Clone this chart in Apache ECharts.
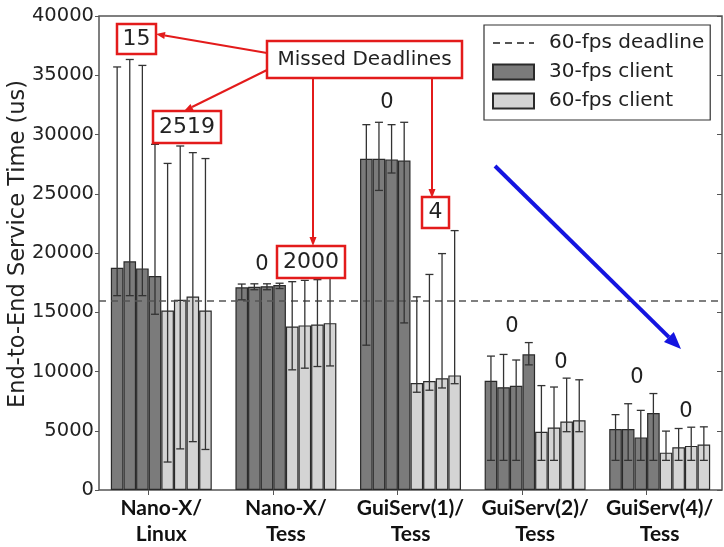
<!DOCTYPE html>
<html><head><meta charset="utf-8">
<script src="https://cdn.jsdelivr.net/npm/echarts@6/dist/echarts.min.js"></script>
<style>html,body{margin:0;padding:0;background:#fff}#c{width:724px;height:547px}</style>
</head><body><div id="c"></div>
<script>
// ---------- data ----------
const categories = ['Nano-X/\nLinux', 'Nano-X/\nTess', 'GuiServ(1)/\nTess', 'GuiServ(2)/\nTess', 'GuiServ(4)/\nTess'];
const yMin = 0, yMax = 40000, yStep = 5000;
const deadline60 = 16000;
// per group: 4 bars (one per client run)
const mean30 = [[18750,19300,18700,18050],[17100,17150,17200,17300],[27950,27950,27900,27800],[9220,8670,8800,11450],[5140,5140,4440,6500]];
const low30  = [[16400,16400,16400,14830],[16050,16900,16900,17000],[12220,25280,26750,14100],[2500,2500,2500,10560],[2500,2500,2500,2500]];
const high30 = [[35700,36330,35830,29170],[17380,17400,17400,17450],[30830,31030,30830,31030],[11300,11440,10970,12440],[6360,7280,6720,8140]];
const mean60 = [[15150,16050,16330,15150],[13800,13890,13970,14080],[9030,9190,9420,9670],[4920,5280,5780,5890],[3150,3610,3720,3830]];
const low60  = [[2360,3470,4080,3420],[10140,10280,10420,10470],[8250,8420,8610,8970],[2500,2500,4920,4920],[2500,2500,2500,2500]];
const high60 = [[27560,29030,28470,27970],[17580,17690,17750,17860],[16300,18190,19950,21890],[8810,8690,9440,9300],[4970,5190,5300,5330]];
const missed30 = ['15', '0', '0', '0', '0'];
const missed60 = ['2519', '2000', '4', '0', '0'];
const legendNames = ['60-fps deadline', '30-fps client', '60-fps client'];
const yTitle = 'End-to-End Service Time (us)';
const calloutTitle = 'Missed Deadlines';

// ---------- style ----------
const GAPFRAC = 0.19;
const DARK = '#7b7b7b', LIGHT = '#d4d4d4', EDGE = '#2a2a2a', RED = '#e31b1b', BLUE = '#1414e0';
const FONT = 'DejaVu Sans';

const chart = echarts.init(document.getElementById('c'), null, {renderer: 'canvas'});

const series = [];
for (let k = 0; k < 4; k++) {
  series.push({type: 'bar', name: legendNames[1], data: mean30.map(g => g[k]),
    barGap: '0%', barCategoryGap: (GAPFRAC * 100) + '%',
    itemStyle: {color: DARK, borderColor: EDGE, borderWidth: 1.2}, z: 2, silent: true});
}
for (let k = 0; k < 4; k++) {
  series.push({type: 'bar', name: legendNames[2], data: mean60.map(g => g[k]),
    barGap: '0%', barCategoryGap: (GAPFRAC * 100) + '%',
    itemStyle: {color: LIGHT, borderColor: EDGE, borderWidth: 1.2}, z: 2, silent: true});
}
const errData = [];
mean30.forEach((g, i) => g.forEach((v, k) => errData.push([i, k, low30[i][k], high30[i][k]])));
mean60.forEach((g, i) => g.forEach((v, k) => errData.push([i, 4 + k, low60[i][k], high60[i][k]])));
series.push({
  type: 'custom', name: 'err', data: errData, encode: {x: 0, y: [2, 3]}, z: 5, silent: true,
  renderItem(params, api) {
    const cat = api.value(0), slot = api.value(1);
    const c = api.coord([cat, 0]);
    const band = api.size([1, 0])[0];
    const gw = band * (1 - GAPFRAC), bw = gw / 8;
    const x = c[0] - gw / 2 + (slot + 0.5) * bw;
    const yl = api.coord([cat, api.value(2)])[1];
    const yh = api.coord([cat, api.value(3)])[1];
    const cap = 4;
    const st = {stroke: '#333', lineWidth: 1.3};
    return {type: 'group', children: [
      {type: 'line', shape: {x1: x, y1: yl, x2: x, y2: yh}, style: st},
      {type: 'line', shape: {x1: x - cap, y1: yh, x2: x + cap, y2: yh}, style: st},
      {type: 'line', shape: {x1: x - cap, y1: yl, x2: x + cap, y2: yl}, style: st}
    ]};
  }
});
series.push({
  type: 'line', name: legendNames[0], data: [], symbol: 'none', silent: true,
  itemStyle: {color: '#555'},
  lineStyle: {color: '#555', width: 1.5, type: [7, 5]},
  markLine: {silent: true, symbol: ['none', 'none'], label: {show: false},
    lineStyle: {color: '#555', width: 1.5, type: [7, 5]}, data: [{yAxis: deadline60}]}
});

function arrow(x1, y1, x2, y2, color, w, hl, hw) {
  const a = Math.atan2(y2 - y1, x2 - x1);
  const bx = x2 - hl * Math.cos(a), by = y2 - hl * Math.sin(a);
  const px = -Math.sin(a) * hw / 2, py = Math.cos(a) * hw / 2;
  return [
    {type: 'line', shape: {x1, y1, x2: bx, y2: by}, style: {stroke: color, lineWidth: w}, z: 10},
    {type: 'polygon', shape: {points: [[x2, y2], [bx + px, by + py], [bx - px, by - py]]}, style: {fill: color}, z: 10}
  ];
}
function boxText(txt, cx, cy, w, h, size) {
  return [
    {type: 'rect', shape: {x: cx - w / 2, y: cy - h / 2, width: w, height: h}, style: {fill: '#fff', stroke: RED, lineWidth: 2.5}, z: 11},
    {type: 'text', x: cx, y: cy, style: {text: txt, font: size + 'px "' + FONT + '"', fill: '#222', align: 'center', verticalAlign: 'middle'}, z: 12}
  ];
}
function plainText(txt, cx, cy, size) {
  return {type: 'text', x: cx, y: cy, style: {text: txt, font: size + 'px "' + FONT + '"', fill: '#222', align: 'center', verticalAlign: 'middle'}, z: 12};
}

const graphic = [].concat(
  {type: 'text', x: 18, y: 244, rotation: Math.PI / 2,
   style: {text: yTitle, font: '22.5px "' + FONT + '"', fill: '#222', align: 'center', verticalAlign: 'middle'}},
  arrow(267, 53, 156, 34, RED, 2, 9, 7),
  arrow(267, 70, 184, 111, RED, 2, 9, 7),
  arrow(313, 78, 313, 246, RED, 2, 9, 7),
  arrow(432, 78, 432, 198, RED, 2, 9, 7),
  boxText(calloutTitle, 364.5, 59.5, 195, 37, 20),
  boxText(missed30[0], 136.5, 39, 39, 30, 22),
  boxText(missed60[0], 187, 127, 68, 32, 22),
  boxText(missed60[1], 311, 262, 68, 32, 22),
  boxText(missed60[2], 435.5, 212.5, 27, 31, 22),
  plainText(missed30[1], 262, 265, 21),
  plainText(missed30[2], 387, 103, 21),
  plainText(missed30[3], 512, 327, 21),
  plainText(missed60[3], 561, 363, 21),
  plainText(missed30[4], 637, 378, 21),
  plainText(missed60[4], 686, 412, 21),
  arrow(495, 166, 681, 349, BLUE, 4, 17, 14)
);

chart.setOption({
  animation: false,
  backgroundColor: '#fff',
  grid: {left: 99, top: 16, width: 623, height: 479, show: true, borderColor: '#555', borderWidth: 1.5, backgroundColor: 'transparent'},
  legend: {
    orient: 'vertical', left: 484, top: 25, padding: [8, 6, 9, 8], itemGap: 9,
    itemWidth: 41, itemHeight: 15, borderColor: '#333', borderWidth: 1.2, backgroundColor: '#fff',
    selectedMode: false, z: 20,
    textStyle: {fontFamily: FONT, fontSize: 20, color: '#222', padding: [0, 0, 0, 10]},
    data: [{name: legendNames[0], itemStyle: {opacity: 0}},
           {name: legendNames[1], icon: 'rect'}, {name: legendNames[2], icon: 'rect'}]
  },
  xAxis: [
    {type: 'category', data: categories, position: 'bottom',
     axisLine: {show: false}, axisTick: {show: false},
     axisLabel: {interval: 0, fontFamily: 'Lato', fontWeight: 'bold', fontSize: 21, color: '#111', lineHeight: 26, margin: 5}},
    {type: 'value', min: 0, max: categories.length, position: 'top',
     axisLine: {show: false}, splitLine: {show: false}, axisLabel: {show: false},
     axisTick: {show: true, inside: true, length: 5, lineStyle: {color: '#555'},
       customValues: categories.map((c, i) => i + 0.395)}}
  ],
  yAxis: [
    {type: 'value', min: yMin, max: yMax, interval: yStep, position: 'left',
     axisLine: {show: false}, splitLine: {show: false},
     axisTick: {show: true, inside: false, length: 4, lineStyle: {color: '#555'}},
     axisLabel: {fontFamily: FONT, fontSize: 19.5, color: '#222', margin: 5, formatter: v => String(v)}},
    {type: 'value', min: yMin, max: yMax, interval: yStep, position: 'right',
     axisLine: {show: false}, splitLine: {show: false}, axisLabel: {show: false},
     axisTick: {show: true, inside: true, length: 5, lineStyle: {color: '#555'}}}
  ],
  series: series,
  graphic: graphic
});
</script></body></html>
